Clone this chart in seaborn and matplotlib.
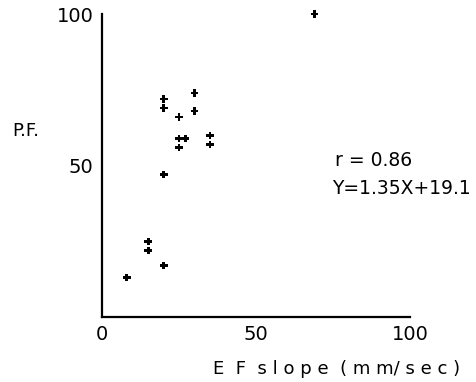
import matplotlib
matplotlib.use('Agg')
import matplotlib.pyplot as plt
import pandas as pd
import seaborn as sns

# values
ef_slope = [69, 20, 20, 30, 30, 25, 25, 27, 25, 35, 35, 20, 15, 15, 20, 8]
pf = [100, 72, 69, 74, 68, 66, 59, 59, 56, 60, 57, 47, 25, 22, 17, 13]
x_ticks = [0, 50, 100]
y_ticks = [50, 100]
r_text = 'r = 0.86'
eq_text = 'Y=1.35X+19.1'


def plot(df):
    sns.set_style('white')
    plt.rcParams['font.family'] = ['DejaVu Sans']
    plt.rcParams['text.color'] = 'black'
    plt.rcParams['xtick.color'] = 'black'
    plt.rcParams['ytick.color'] = 'black'
    fig = plt.figure(figsize=(4.77, 3.82), dpi=100)
    ax = fig.add_axes([0.214, 0.170, 0.646, 0.793])
    sns.scatterplot(data=df, x='ef', y='pf', marker='P', s=30,
                    color='black', edgecolor='none', ax=ax, clip_on=False)
    ax.set_xlim(0, 100)
    ax.set_ylim(0, 100)
    ax.set_xticks(x_ticks)
    ax.set_yticks(y_ticks)
    ax.tick_params(axis='both', labelsize=14, length=3, width=1.2,
                   colors='black', direction='out', pad=3)
    for s in ['top', 'right']:
        ax.spines[s].set_visible(False)
    for s in ['left', 'bottom']:
        ax.spines[s].set_color('black')
        ax.spines[s].set_linewidth(1.6)
    ax.set_xlabel('')
    ax.set_ylabel('')
    fig.text(0.025, 0.645, 'P.F.', fontsize=13)
    fig.text(0.447, 0.022, 'E  F  s l o p e  ( m m/ s e c )', fontsize=13)
    ax.text(0.755, 0.50, r_text, transform=ax.transAxes, fontsize=13.5)
    ax.text(0.748, 0.405, eq_text, transform=ax.transAxes, fontsize=13.5)
    return ax


def main_plots():
    df = pd.DataFrame({'ef': ef_slope, 'pf': pf})
    plot(df)
    plt.savefig('out.png', dpi=100)


if __name__ == '__main__':
    main_plots()
